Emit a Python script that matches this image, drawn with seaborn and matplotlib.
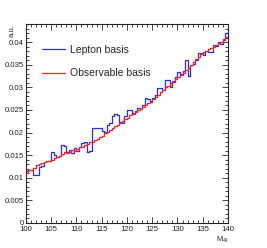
import numpy as np
import pandas as pd
import matplotlib
matplotlib.use("Agg")
import matplotlib.pyplot as plt
from matplotlib.ticker import MultipleLocator, FormatStrFormatter
import seaborn as sns

# histogram range / binning (0.5 GeV bins from 100 to 140)
x_lo, x_hi, n_bins = 100, 140, 80

# bin contents
lepton = [0.0116, 0.0118, 0.0117, 0.0107,
          0.0107, 0.0124, 0.0126, 0.0134,
          0.0136, 0.0138, 0.0156, 0.0150,
          0.0146, 0.0148, 0.0172, 0.0170,
          0.0156, 0.0162, 0.0154, 0.0166,
          0.0160, 0.0168, 0.0176, 0.0178,
          0.0158, 0.0160, 0.0210, 0.0211,
          0.0209, 0.0210, 0.0204, 0.0202,
          0.0217, 0.0222, 0.0236, 0.0240,
          0.0238, 0.0223, 0.0222, 0.0236,
          0.0250, 0.0249, 0.0243, 0.0247,
          0.0255, 0.0251, 0.0262, 0.0276,
          0.0275, 0.0268, 0.0277, 0.0283,
          0.0298, 0.0299, 0.0294, 0.0316,
          0.0317, 0.0301, 0.0312, 0.0322,
          0.0334, 0.0330, 0.0336, 0.0360,
          0.0325, 0.0350, 0.0352, 0.0360,
          0.0375, 0.0377, 0.0372, 0.0380,
          0.0378, 0.0379, 0.0393, 0.0392,
          0.0400, 0.0396, 0.0405, 0.0420]

observable = [0.0110, 0.0118, 0.0117, 0.0121,
              0.0128, 0.0130, 0.0132, 0.0134,
              0.0136, 0.0137, 0.0140, 0.0143,
              0.0145, 0.0149, 0.0152, 0.0156,
              0.0155, 0.0158, 0.0161, 0.0160,
              0.0164, 0.0167, 0.0169, 0.0172,
              0.0174, 0.0178, 0.0179, 0.0184,
              0.0186, 0.0190, 0.0193, 0.0198,
              0.0201, 0.0206, 0.0209, 0.0214,
              0.0217, 0.0222, 0.0225, 0.0230,
              0.0233, 0.0238, 0.0242, 0.0245,
              0.0249, 0.0253, 0.0257, 0.0261,
              0.0265, 0.0270, 0.0274, 0.0279,
              0.0284, 0.0289, 0.0295, 0.0300,
              0.0304, 0.0309, 0.0313, 0.0318,
              0.0322, 0.0327, 0.0332, 0.0338,
              0.0343, 0.0349, 0.0355, 0.0362,
              0.0368, 0.0374, 0.0378, 0.0381,
              0.0384, 0.0388, 0.0390, 0.0394,
              0.0398, 0.0401, 0.0407, 0.0412]

labels = ["Lepton basis", "Observable basis"]
colors = ["#2a2aff", "#ff2020"]

sns.set_style("ticks")
plt.rcParams['font.family'] = ['Liberation Sans', 'DejaVu Sans']
plt.rcParams['mathtext.default'] = 'regular'

edges = np.linspace(x_lo, x_hi, n_bins + 1)
centers = 0.5 * (edges[:-1] + edges[1:])
bw = (x_hi - x_lo) / n_bins

fig = plt.figure(figsize=(2.67, 2.48), dpi=100)
ax = fig.add_axes([0.097, 0.101, 0.757, 0.802])

for vals, lab, col in zip([lepton, observable], labels, colors):
    df = pd.DataFrame({"m4l": centers, "w": vals})
    sns.histplot(data=df, x="m4l", weights="w", binwidth=bw,
                 binrange=(x_lo, x_hi), element="step",
                 fill=False, color=col, linewidth=0.9, label=lab, ax=ax)

ax.set_xlim(x_lo, x_hi)
ax.set_ylim(0, 0.044)
ax.xaxis.set_major_locator(MultipleLocator(5))
ax.xaxis.set_minor_locator(MultipleLocator(1))
ax.yaxis.set_major_locator(MultipleLocator(0.005))
ax.yaxis.set_minor_locator(MultipleLocator(0.001))
ax.yaxis.set_major_formatter(FormatStrFormatter('%g'))
ax.tick_params(which='both', direction='in', top=True, right=True,
               labelsize=5.6, width=0.6, pad=1.5, labelcolor='#222222')
ax.tick_params(axis='x', which='major', pad=2.2)
ax.tick_params(which='major', length=4)
ax.tick_params(which='minor', length=2)
for s in ax.spines.values():
    s.set_linewidth(0.8)

ax.set_ylabel("a.u.", fontsize=5.6, ha='right', va='center')
ax.yaxis.set_label_coords(-0.07, 1.0)
ax.set_xlabel("M$_{4l}$", loc='right', fontsize=5.6, labelpad=1)

ax.legend(loc='upper left', bbox_to_anchor=(0.079, 0.895), frameon=False,
          fontsize=7.5, handlelength=2.2, handletextpad=0.5,
          labelspacing=1.3, borderpad=0, borderaxespad=0)

fig.savefig("out.png", dpi=100)
